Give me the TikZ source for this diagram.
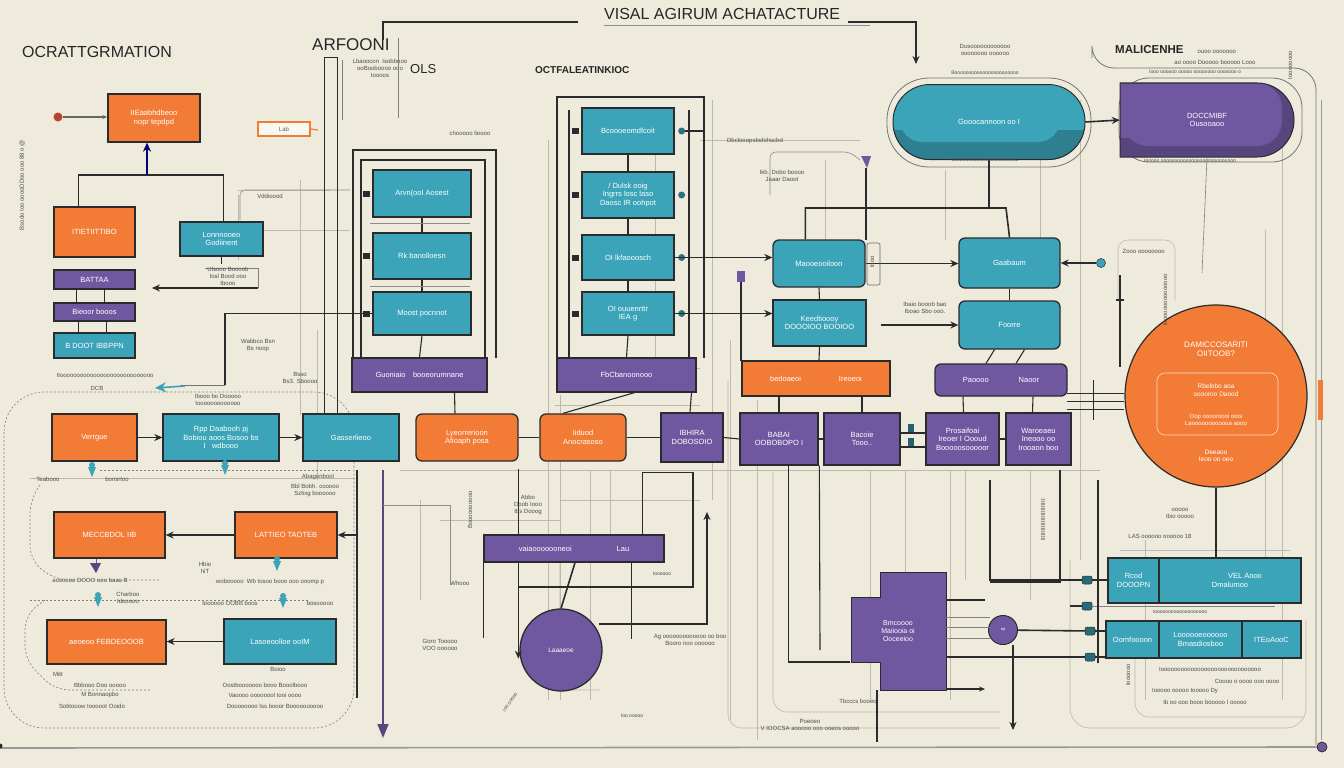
\documentclass[tikz,border=0pt]{standalone}
\usepackage{fontspec}
\setmainfont{Liberation Sans}
\usetikzlibrary{arrows.meta,shapes.geometric,calc}
\definecolor{bgc}{HTML}{EEEADC}
\definecolor{corange}{HTML}{F27B36}
\definecolor{cteal}{HTML}{3BA4B9}
\definecolor{cpurple}{HTML}{6F58A0}
\definecolor{cline}{HTML}{2B2B2E}
\definecolor{cgrey}{HTML}{BDB9AD}
\definecolor{cred}{HTML}{B8432E}
\newcommand\mkbox[7]{\node[#2,minimum width={#5-#3},minimum height={#6-#4}] (#1) at ({(#3+#5)/2},{(#4+#6)/2}) {#7};}
\newcommand\tpin[3]{\fill[#3] ({#1-4},{#2-5}) -- ({#1+4},{#2-5}) -- (#1,{#2+5}) -- cycle; \fill[#3] (#1,{#2-7}) circle (3pt);}
\tikzset{
  bxbase/.style={draw=cline,line width=1.3pt,text=white,font=\fontsize{7.5}{8.5}\selectfont,inner sep=1pt,align=center},
  tealbox/.style={bxbase,fill=cteal},
  orangebox/.style={bxbase,fill=corange},
  purplebox/.style={bxbase,fill=cpurple},
  rteal/.style={tealbox,rounded corners=6pt},
  rorange/.style={orangebox,rounded corners=6pt},
  rpurple/.style={purplebox,rounded corners=6pt},
  main/.style={draw=cline,line width=1.6pt},
  mid/.style={draw=cline,line width=1.1pt},
  thinl/.style={draw=cgrey,line width=0.6pt},
  dashl/.style={draw=black!50,line width=0.6pt,dash pattern=on 2pt off 2pt},
  arr/.style={-{Stealth[length=8pt,width=7pt]}},
  lbl/.style={font=\fontsize{6}{7}\selectfont,text=black!70,inner sep=0.5pt,align=center},
  ttl/.style={font=\fontsize{16}{17}\selectfont,text=black!85,inner sep=0,anchor=west},
  plug/.style={fill=cteal!65!black,draw=cline,line width=0.5pt,rounded corners=2pt,minimum width=10pt,minimum height=8pt,inner sep=0},
}
\begin{document}
\begin{tikzpicture}[x=1pt,y=-1pt]
\fill[bgc] (0,0) rectangle (1344,768);
\useasboundingbox (0,0) rectangle (1344,768);

% ---------- faint guide lines ----------
\foreach \x/\a/\b in {238/195/260, 300/180/415, 317/330/480, 548/140/700, 712/100/500, 730/340/720,
  757/400/740, 870/470/700, 905/470/690, 1080/100/560, 1145/540/700, 1265/230/560, 1282/100/700,
  610/470/560, 655/140/360, 825/160/240, 1040/100/240, 945/170/240, 560/395/700, 590/470/700,
  950/470/700, 965/470/580, 1030/470/600, 420/500/600}
  \draw[thinl] (\x,\a) -- (\x,\b);
\foreach \y/\a/\b in {140/700/860, 190/238/330, 405/555/700, 520/440/560, 550/1120/1290,
  600/1120/1290, 368/560/700, 230/263/350, 470/400/1100, 478/30/355, 500/560/700}
  \draw[thinl] (\a,\y) -- (\b,\y);
\draw[thinl,rounded corners=14] (728,380) |- (1000,728);
\draw[thinl,rounded corners=14] (773,470) |- (1000,712);
\draw[thinl,rounded corners=14] (560,560) |- (600,690) ;
\draw[thinl,rounded corners=10] (1118,300) |- (1175,240) -- (1175,300);
\draw[thinl,rounded corners=20] (1070,560) |- (1306,728) -- (1306,620);
\draw[thinl,rounded corners=14] (1135,640) |- (1303,717);
\draw[line width=0.8pt,black!55,rounded corners=22] (1092,58) |- (1316,68) -- (1316,745);
\draw[line width=0.8pt,black!40] (1321,100) -- (1321,740);
\fill[corange] (1318,380) rectangle (1323,420);
\draw[dashl,rounded corners=40] (4,392) rectangle (354,728);
\draw[dashl,rounded corners=14] (40,485) -- (30,500) -- (30,560) -- (55,580) -- (160,580);
\draw[dashl,rounded corners=14] (45,600) -- (25,615) -- (25,660) -- (55,690) -- (150,690);
\draw[dashl] (30,600) -- (310,600);
\draw[dashl] (100,470) -- (350,470);

% ---------- titles ----------
\node[ttl] (tA) at (22,52) {OCRATTGRMATION};
\node[ttl,font=\fontsize{17}{18}\selectfont] (tB) at (312,45) {ARFOONI};
\node[ttl,font=\fontsize{13}{14}\selectfont] (tC) at (410,69) {OLS};
\node[ttl,font=\bfseries\fontsize{10}{11}\selectfont] (tD) at (535,70) {OCTFALEATINKIOC};
\node[ttl] (tE) at (604,14) {VISAL AGIRUM ACHATACTURE};
\node[ttl,font=\bfseries\fontsize{11.5}{12}\selectfont] (tF) at (1115,50) {MALICENHE};
\draw[thinl,draw=black!45] (604,25) -- (870,25);
\coordinate (tl1) at (383,40);
\draw[main] (tl1) |- ($(tE.west)+(-26,8)$);
\coordinate (ta) at (916,64);
\draw[main,arr] ($(tE.east)+(8,8)$) -| (ta);

% ---------- left column ----------
\mkbox{o1}{orangebox}{108}{94}{200}{142}{IIEaabhdbeoo\\nopr tepdpd}
\node[circle,fill=cred,inner sep=0,minimum size=9pt] (rd) at (58,117) {};
\draw[draw=black!60,line width=1.2pt,-{Stealth[length=5pt,width=4pt]}] (rd) -- (o1.west |- rd);
\node[draw=corange,line width=1.3pt,fill=white!60!bgc,text=black!60,font=\fontsize{6}{7}\selectfont,minimum width=52pt,minimum height=14pt,inner sep=0] (lab) at (284,129) {Lab};
\coordinate (labx) at (318,130);
\draw[corange,line width=1.2pt] (lab.east) -- (labx);
\mkbox{o2}{orangebox}{54}{207}{135}{257}{ITIETIITTIBO}
\mkbox{t1}{tealbox}{180}{222}{263}{256}{Lonnnooeo\\Godiinent}
\mkbox{p1}{purplebox}{54}{270}{135}{289}{BATTAA}
\mkbox{p2}{purplebox}{54}{303}{135}{321}{Bieoor booos}
\mkbox{t2}{tealbox}{54}{333}{135}{358}{B DOOT IBBPPN}
\coordinate (j1) at (147,175);
\draw[main] ($(o2.north)+(-16,0)$) |- (j1) -| ($(t1.north)+(2,0)$);
\draw[line width=1.6pt,draw=blue!45!black,-{Stealth[length=9pt,width=8pt]}] (j1) -- (j1 |- o1.south);
\foreach \d in {-18,10} {
  \draw[mid] ($(p1.south)+(\d,0)$) -- ($(p2.north)+(\d,0)$);
  \draw[mid] ($(p2.south)+(\d+2,0)$) -- ($(t2.north)+(\d+2,0)$);
}
\draw[mid] (t1.south) -- ++(0,7);
\draw[thinl,draw=black!50] (205,268) -| (258,288);
\coordinate (k1) at (258,288); \coordinate (k2) at (152,288);
\draw[main,arr] (k1) -- (k2);
\node[lbl] at (228,276) {Ulsooo Boooob\\Iosl Bood ooo\\Ibooo};
\node[lbl] (vd) at (270,196) {Vddioood};
\draw[thinl,draw=black!45,rounded corners=5] (240,220) |- (250,190) -- (350,190);

% ---------- ARFOONI group ----------
\draw[main] (353,358) -- (353,150) -- (496,150) -- (496,358);
\draw[main] (361,358) -- (361,160) -- (485,160) -- (485,358);
\mkbox{a1}{tealbox}{373}{170}{471}{217}{Arvn(ooI Aosest}
\mkbox{a2}{tealbox}{373}{233}{471}{279}{Rk banolloesn}
\mkbox{a3}{tealbox}{373}{292}{471}{335}{Moost pocnnot}
\mkbox{a4}{purplebox}{352}{358}{487}{392}{Guoniaio\quad booeorumnane}
\draw[mid] (a1.south) -- (a2.north);
\draw[mid] (a2.south) -- (a3.north);
\draw[mid] (a3.south) -- (a4.north);
\foreach \n in {a1,a2,a3} \fill[cline] ($(\n.west)+(-9,-3)$) rectangle ($(\n.west)+(-2,3)$);
\draw[thinl,draw=black!45] (370,223) -- (470,223);
\draw[thinl,draw=black!45] (370,286) -- (470,286);
\node[lbl] at (380,68) {Lbaoocon \ Isobbooo\\ooBooboooo ooo\\Ioooos};
\draw[thinl,draw=black!50] (342,60) -- (342,120);
\draw[thinl,draw=black!50] (398,38) -- (398,118);

% left long lines
\mkbox{g3}{tealbox}{303}{414}{399}{461}{Gasserlieoo}
\draw[main] ($(g3.north west)+(22,0)$) -- ++(0,-356) -- ++(13,0) -- ($(g3.north west)+(35,0)$);
\draw[main] (a3.west) -| (225,385);
\coordinate (tp) at (155,388);
\draw[draw=black!55,line width=0.8pt] (225,385) -- (180,385);
\draw[cteal,line width=1.6pt,-{Stealth[length=11pt,width=10pt]}] (185,386) -- (tp);
\node[lbl] at (97,388) {DCB};
\node[lbl,anchor=west] at (56,375) {IIoooooooooooooooooooooooooooo};
\node[lbl] at (258,345) {Wabbco Bsn\\Bs noop};
\node[lbl] at (300,378) {Bsso\\Bs3. Sboooo};
\node[lbl] at (218,400) {Ibooo bo Dooooo\\Iooooooooooooo};

% ---------- row of boxes ----------
\mkbox{L1}{orangebox}{52}{414}{137}{461}{Verrgue}
\mkbox{L2}{tealbox}{163}{414}{279}{461}{Rpp Daabooh pj\\Bobiou aoos Bosoo bs\\I \ \ wdbooo}
\draw[main,arr] (L1.east) -- (L2.west);
\draw[main,arr] (L2.east) -- (g3.west);
\mkbox{L4}{rorange}{416}{414}{518}{461}{Lyeorrerioon\\Afioaph posa}
\mkbox{L5}{rorange}{540}{414}{626}{461}{Iiduod\\Anocrasoso}
\mkbox{P1}{purplebox}{661}{413}{723}{462}{IBHIRA\\DOBOSOIO}
\mkbox{P2}{purplebox}{740}{413}{818}{465}{BABAI\\OOBOBOPO I}
\mkbox{P3}{purplebox}{824}{413}{900}{465}{Bacoie\\Tooo..}
\mkbox{P4}{purplebox}{926}{413}{999}{465}{Prosaifoai\\Ireoer I Oooud\\Booooosooooor}
\mkbox{P5}{purplebox}{1006}{413}{1071}{465}{Waroeaeu\\Ineooo oo\\Irooaon boo}
\draw[mid] (L4.east) -- (L5.west);
\draw[mid] (L5.east) -- (P1.west);
\draw[mid] (P1.east) -- (P2.west);
\draw[mid] (P2.east) -- (P3.west);
\draw[mid] ($(P3.east)+(0,-6)$) -- ($(P4.west)+(0,-6)$);
\draw[mid] ($(P3.east)+(0,8)$) -- ($(P4.west)+(0,8)$);
\fill[cteal!60!black] (908,424) rectangle (914,432);
\fill[cteal!60!black] (908,438) rectangle (914,446);
\draw[mid] (P4.east) -- (P5.west);
\draw[mid] ($(a4.south)+(35,0)$) -- ($(L4.north)+(-12,0)$);
\tpin{92}{472}{cteal}
\tpin{225}{470}{cteal}

% ---------- OCTFAL group ----------
\draw[main] (557,358) -- (557,97) -- (704,97) -- (704,358);
\draw[mid] (569,110) -- (569,358);
\draw[mid] (689,110) -- (689,358);
\mkbox{c1}{tealbox}{582}{108}{674}{154}{Bcoooeomdfcoit}
\mkbox{c2}{tealbox}{582}{172}{674}{218}{/ Dulsk ooig\\Ingrrs losc laso\\Daosc IR oohpot}
\mkbox{c3}{tealbox}{582}{235}{674}{280}{OI lkfaooosch}
\mkbox{c4}{tealbox}{582}{292}{674}{335}{OI ouuenrttr\\IEA g}
\mkbox{c5}{purplebox}{557}{358}{696}{392}{FbCbanoonooo}
\draw[mid] (c1.south) -- (c2.north);
\draw[mid] (c2.south) -- (c3.north);
\draw[mid] (c3.south) -- (c4.north);
\draw[mid] (c4.south) -- (c5.north);
\foreach \n in {c1,c2,c3,c4} {
  \fill[cline] ($(\n.west)+(-9,-3)$) rectangle ($(\n.west)+(-2,3)$);
  \node[circle,fill=cteal!70!black,inner sep=0,minimum size=7pt] at ($(\n.east)+(7,0)$) {};
}
\draw[mid] ($(c5.south)+(8,0)$) -- ($(L5.north)+(-20,0)$);
\draw[mid] ($(P1.north)+(-2,0)$) -- ($(c5.south)+(65,0)$);
\draw[mid] ($(c1.east)+(10,0)$) -- (704,131);
\node[lbl] at (470,133) {chooooo lioooo};
\node[lbl] at (755,141) {Dbclooopsbsfohscbd};
\node[lbl] at (782,176) {Ikb. Dobo boooo\\Jaaar Daoot};
\draw[thinl,draw=black!45,rounded corners=6] (770,195) |- (850,152) -- (860,160);

% ---------- middle right ----------
\mkbox{m1}{rteal}{773}{240}{865}{287}{Maooeooiloon}
\mkbox{m2}{tealbox}{773}{300}{866}{346}{Keedtioooy\\DOOOIOO BOOIOO}
\mkbox{r1}{orangebox}{742}{361}{890}{396}{bedoaeoi\hspace{38pt}Ireoeoi}
\mkbox{g1}{rteal}{959}{238}{1060}{288}{Gaabaum}
\mkbox{g2}{rteal}{959}{301}{1060}{349}{Foorre}
\mkbox{q1}{rpurple}{935}{364}{1067}{396}{Paoooo\hspace{30pt}Naoor}
\draw[main,arr] (c3.east) -- (c3.east -| m1.west);
\draw[main,arr] (c4.east) -- (c4.east -| m2.west);
\draw[main,arr] (m1.east) -- (m1.east -| g1.west);
\draw[main,arr] ($(m2.east)+(14,2)$) -- ($(m2.east -| g2.west)+(0,2)$);
\node[circle,fill=cteal,draw=cline,line width=0.5pt,inner sep=0,minimum size=9pt] (dg) at (1101,263) {};
\draw[main,arr] (dg) -- (dg -| g1.east);
\draw[mid] (g1.south) -- (g2.north);
\draw[mid] ($(g2.south)+(-15,0)$) -- ($(q1.north)+(-15,0)$);
\draw[mid] ($(g2.south)+(15,0)$) -- ($(q1.north)+(15,0)$);
\draw[mid] ($(q1.south)+(-38,0)$) -- ($(P4.north)+(1,0)$);
\draw[mid] ($(q1.south)+(32,0)$) -- ($(P5.north)+(-6,0)$);
\draw[mid] ($(r1.south)+(-37,0)$) -- ($(P2.north)+(0,0)$);
\draw[mid] ($(r1.south)+(46,0)$) -- ($(P3.north)+(0,0)$);
\draw[mid] (m1.south) -- (m2.north);
\draw[mid] ($(m2.south)+(0,0)$) -- ($(r1.north)+(3,0)$);
% top connectors
\draw[main] ($(m1.north west)+(33,0)$) |- (1006,208) -- (g1.north);
\node[lbl] at (925,308) {Ibaio booob bao\\Iboao Sbo ooo.};
\node[lbl] at (872,262) {\rotatebox{90}{Iooo}};
\draw[thinl,draw=black!60,rounded corners=2] (867,243) rectangle (880,285);
\fill[cpurple] (861,156) -- (871,156) -- (867,168) -- cycle;
\draw[mid] (866,168) -- (866,240);
\fill[cpurple] (737,271) rectangle (745,282);
\draw[mid] (741,282) -- (741,361);
\draw[main] (1120,275) -- (1120,367);
\draw[main] (1116,300) -- (1124,300);
\node[lbl,anchor=west] at (1122,251) {Zooo oooooooo};

% ---------- top pills ----------
\draw[line width=0.8pt,black!55,rounded corners=42pt] (887,78) rectangle (1091,167);
\begin{scope}
\clip[rounded corners=37pt] (893,85) rectangle (1085,160);
\fill[cteal] (893,85) rectangle (1085,160);
\fill[cteal!78!black] (893,130) rectangle (1085,160);
\fill[cteal,rounded corners=22pt] (900,90) rectangle (1060,142);
\end{scope}
\node[draw=cline,line width=1pt,rounded corners=37pt,minimum width=192pt,minimum height=75pt,text=white,font=\fontsize{7.5}{8.5}\selectfont] (pillT) at (989,122) {Gooocannoon oo I};
\draw[line width=0.8pt,black!55,rounded corners=30pt] (1119,78) -- (1302,78) -- (1302,162) -- (1119,162) -- cycle;
\begin{scope}
\clip (1120,83) -- (1257,83) arc[start angle=90,end angle=-90,radius=37pt] -- (1120,157) -- cycle;
\fill[cpurple] (1120,83) rectangle (1300,157);
\fill[cpurple!78!black] (1120,138) rectangle (1300,157);
\fill[cpurple!78!black] (1270,83) rectangle (1300,157);
\fill[cpurple,rounded corners=25pt] (1123,83) rectangle (1282,146);
\end{scope}
\draw[draw=cline,line width=1pt] (1120,83) -- (1257,83) arc[start angle=90,end angle=-90,radius=37pt] -- (1120,157) -- cycle;
\node[text=white,font=\fontsize{7.5}{8.5}\selectfont,align=center,minimum width=174pt,minimum height=74pt,inner sep=0] (pillP) at (1207,120) {DOCCMIBF\\Ousooaoo};
\draw[main,arr] (pillT.east) -- (pillP.west);
\draw[mid] (pillT.south) -- ++(0,48);
\draw[thinl,draw=black!50] (pillP.south) -- (1202,273);
\node[lbl] at (985,50) {Dusoooooooooooo\\oooooooo oooooo};
\node[lbl,anchor=west] at (1197,52) {ouoo ooooooo};
\node[lbl] at (1215,62) {ao oooo Dooooo booooo Looo};
\node[lbl,font=\fontsize{5}{6}\selectfont] at (985,73) {Booooooooooooooooooooooo};
\node[lbl,font=\fontsize{5}{6}\selectfont] at (985,160) {oooooooooooooooooooooooo};
\node[lbl,font=\fontsize{5}{6}\selectfont] at (1195,72) {Iooo oooooo ooooo oooooooo ooooooo o};
\node[lbl,font=\fontsize{5}{6}\selectfont] at (1190,161) {Iooooo ooooooooooooooooooooooooooo};

% ---------- orange circle ----------
\node[circle,fill=corange,draw=cline,line width=1.2pt,minimum size=182pt,inner sep=0] (oc) at (1216,396) {};
\node[text=white,font=\fontsize{8}{9.5}\selectfont,align=center] at (1216,349) {DAMICCOSARITI\\OIITOOB?};
\draw[white!70!corange,line width=0.6pt,rounded corners=8] (1157,373) rectangle (1278,435);
\node[text=white,font=\fontsize{6.5}{7.5}\selectfont,align=center] at (1216,390) {Rbelobo aoa\\ooooroo Daood};
\node[text=white,font=\fontsize{6}{7}\selectfont,align=center] at (1216,420) {Oop ooooroooi oooi\\Laoooooooooooa aooo};
\node[text=white,font=\fontsize{6.5}{7.5}\selectfont,align=center] at (1216,456) {Deeaoo\\Ieoo oo oeo};
\foreach \y in {393,401,409} \draw[mid,line width=0.8pt] (1067,\y) -- (oc.west |- 0,\y);
\draw[mid,line width=0.8pt] (1093,380) -- (1093,420);

% ---------- lower middle ----------
\mkbox{bar}{purplebox}{484}{535}{664}{562}{vaiaooooooneoi\hspace{45pt}Lau}
\node[circle,fill=cpurple,draw=cline,line width=1.3pt,minimum size=82pt,inner sep=0,text=white,font=\fontsize{6.5}{7.5}\selectfont] (pc) at (561,650) {Laaaeoe};
\draw[main] ($(bar.south)+(1,0)$) -- (pc.north);
\draw[main,arr] ($(bar.south west)+(35,0)$) -- ++(0,96);
\draw[main] (bar.south west) -- ++(0,75);
\draw[main] ($(bar.south east)+(-33,0)$) -- ++(0,76);
\draw[main] ($(bar.north west)+(35,0)$) -- ++(0,-65);
\draw[main] ($(bar.north east)+(-22,0)$) -- ++(0,-62) -| (693,587) -- (519,587);
\coordinate (up1) at (707,512);
\draw[main,arr] ($(pc.east)+(-4,-26)$) -| (up1);
\node[lbl] at (528,505) {Abbo\\Doob Iooo\\Ibs Dooog};
\node[lbl] at (440,645) {Goro Tooooo\\VOO oooooo};
\node[lbl] at (690,640) {Ag ooooooooooooo oo boo\\Booro noo oooooo};
\node[lbl] at (470,510) {\rotatebox{90}{Boooooooooo}};
\node[lbl,font=\fontsize{5}{6}\selectfont] at (662,574) {Ioooooo};
\node[lbl,rotate=55,font=\fontsize{5}{6}\selectfont] at (510,702) {Ioo ooooo};
\node[lbl,font=\fontsize{5}{6}\selectfont] at (632,716) {Ioo ooooo};
\node[lbl] at (460,583) {Whooo};

% ---------- step shape ----------
\draw[fill=cpurple,draw=cline,line width=1pt] (851,597) -- (880,597) -- (880,572) -- (946,572) -- (946,690) -- (880,690) -- (880,662) -- (851,662) -- cycle;
\node[text=white,font=\fontsize{7}{8}\selectfont,align=center,minimum width=95pt,minimum height=118pt,inner sep=0] (stp) at (898,631) {Bmcoooo\\Maiiooia oi\\Ooceeioo};
\draw[main] ($(P2.south west)+(49,0)$) |- ($(stp.west)+(0,31)$);
\draw[mid] ($(P3.south west)+(-4,0)$) -- (820,650);
\node[lbl] at (858,701) {Tbcccs booeo};
\node[lbl] at (810,725) {Poeoeo\\V IOOCSA aooooo ooo ooeos ooooo};
\draw[mid] (877,690) -- (877,742);

% ---------- bottom right ----------
\mkbox{T1a}{tealbox}{1108}{558}{1159}{603}{Rcod\\DOOOPN}
\mkbox{T1b}{tealbox}{1159}{558}{1301}{603}{\hspace{30pt}VEL Aooo\\Dmalumoo}
\mkbox{T2a}{tealbox}{1106}{621}{1159}{658}{Oomfoooon}
\mkbox{T2b}{tealbox}{1159}{621}{1242}{658}{Loooooeoooooo\\Bmasdiosboo}
\mkbox{T2c}{tealbox}{1242}{621}{1301}{658}{ITEoAooC}
\node[circle,fill=cpurple,draw=cline,line width=1pt,minimum size=29pt,inner sep=0,text=white,font=\fontsize{4}{5}\selectfont] (sp) at (1003,630) {ep};
\node[plug] (pg1) at (1087,580) {};
\node[plug] (pg2) at (1087,606) {};
\node[plug] (pg3) at (1090,631) {};
\node[plug] (pg4) at (1090,657) {};
\draw[main] (990,480) |- (pg1);
\draw[mid] (pg1) -- (pg1 -| T1a.west);
\draw[mid] (1070,606) -- (pg2);
\draw[thinl,draw=black!50] (pg2) -- (1275,606);
\draw[main] (sp) -- (pg3);
\draw[mid] (pg3) -- (pg3 -| T2a.west);
\draw[mid] (pg4) -- (pg4 -| T2a.west);
\draw[main] ($(stp.east)+(0,26)$) -- (pg4);
\draw[main] ($(stp.east)+(0,-31)$) -- (985,600);
\foreach \y in {617,627,638} \draw[thinl,draw=black!50] (946,\y) -- (990,\y);
\coordinate (sa) at (985,689);
\draw[main,-{Stealth[length=6pt,width=5pt]}] ($(stp.east)+(0,58)$) -- (sa);
\coordinate (dn1) at (1013,730);
\draw[main,arr] (sp.south -| dn1) -- (dn1);
\draw[main] (1098,480) -- (1098,663);
\draw[main] (oc.south) -- (oc.south |- T1b.north);
\draw[main] (1060,470) -- (1060,582) -- (990,582);
\node[lbl] at (1180,513) {ooooo\\Ibio ooooo};
\node[lbl] at (1160,536) {LAS oooooo oooooo 18};
\node[lbl,font=\fontsize{5}{6}\selectfont] at (1180,612) {Iooooooooooooooooooo};
\node[lbl] at (1210,669) {Ioooooooooooooooooooooooooooooo};
\node[lbl] at (1247,681) {Coooo o oooo ooo oooo};
\node[lbl] at (1185,691) {Iooooo ooooo Iooooo Dy};
\node[lbl] at (1205,702) {Ib oo ooo booo booooo I ooooo};
\node[lbl,rotate=90] at (1128,675) {Ioooooo};
\node[lbl,rotate=90] at (1043,520) {IIIIIIIIIIIIIIIIIIIIIIIII};
\node[lbl,rotate=90] at (1165,300) {Iooooooooooooooo};
\node[lbl,rotate=90] at (1290,65) {Ioooooooo};

% ---------- lower left ----------
\mkbox{lo1}{orangebox}{54}{512}{165}{558}{MECCBDOL IIB}
\mkbox{lo2}{orangebox}{235}{512}{337}{558}{LATTIEO TAOTEB}
\mkbox{lo3}{orangebox}{47}{620}{166}{664}{aeoeoo FEBDEOOOB}
\mkbox{lo4}{tealbox}{224}{619}{336}{664}{Lasoeoolloe ooIM}
\draw[main,arr] (lo2.west) -- (lo2.west -| lo1.east);
\draw[mid,arr] (lo4.west) -- (lo4.west -| lo3.east);
\draw[main] (357,470) -- (357,698);
\draw[mid,arr] (357,535) -- (lo2.east |- 0,535);
\coordinate (pd) at (383,738);
\draw[line width=1.6pt,cpurple!80!black,-{Triangle[length=14pt,width=11pt]}] (383,470) -- (pd);
\draw[mid,cpurple] ($(lo1.south)+(-13,0)$) -- ++(0,12);
\fill[cpurple!80!black] (90,563) -- (101,563) -- (96,573) -- cycle;
\tpin{277}{566}{cteal}
\tpin{98}{602}{cteal}
\tpin{283}{603}{cteal}
\draw[thinl,draw=black!45] (383,505) -| (450,585);
\node[lbl] at (48,479) {Teabooo};
\node[lbl] at (117,479) {bonsrtoo};
\node[lbl] at (318,477) {Abagonbool};
\node[lbl] at (315,490) {Bbl Bobh. cooooo\\Sztixg boooooo};
\node[lbl] at (205,568) {Hbio\\hiT};
\node[lbl] at (270,582) {wobooooo \ Wb tosoo booo ooo ooomp p};
\node[lbl] at (90,580) {aosoooo DOOO ooo baas B};
\node[lbl] at (128,598) {Charboo\\Idooooo};
\node[lbl] at (230,603) {Ioooooo OOBB boos};
\node[lbl] at (320,603) {bosooooo};
\node[lbl] at (58,674) {Mitt};
\node[lbl] at (100,685) {Bbbooo Doo ooooo};
\node[lbl] at (100,695) {M Bonnaopbo};
\node[lbl] at (92,706) {Sotitooow Iooooot Ooido};
\node[lbl] at (265,685) {Oostbooooooo booo Booolbooo};
\node[lbl] at (265,695) {Vaoooo oooooool tooi oooo};
\node[lbl] at (275,706) {Doooooooo Iss booor Boooooooooo};
\node[lbl] at (278,669) {Boioo};
\node[lbl,rotate=90] at (22,185) {Bsodo Ioo ooooDDoo ooo 88 o @};

% ---------- bottom rule ----------
\node[circle,fill=cpurple,draw=cline,line width=0.8pt,minimum size=10pt,inner sep=0] (pEnd) at (1322,747) {};
\coordinate (pStart) at (0,748);
\draw[line width=1.6pt,black!40] (pStart) -- (pEnd);
\fill[cline] (0,746) circle (2.5pt);
\end{tikzpicture}
\end{document}
